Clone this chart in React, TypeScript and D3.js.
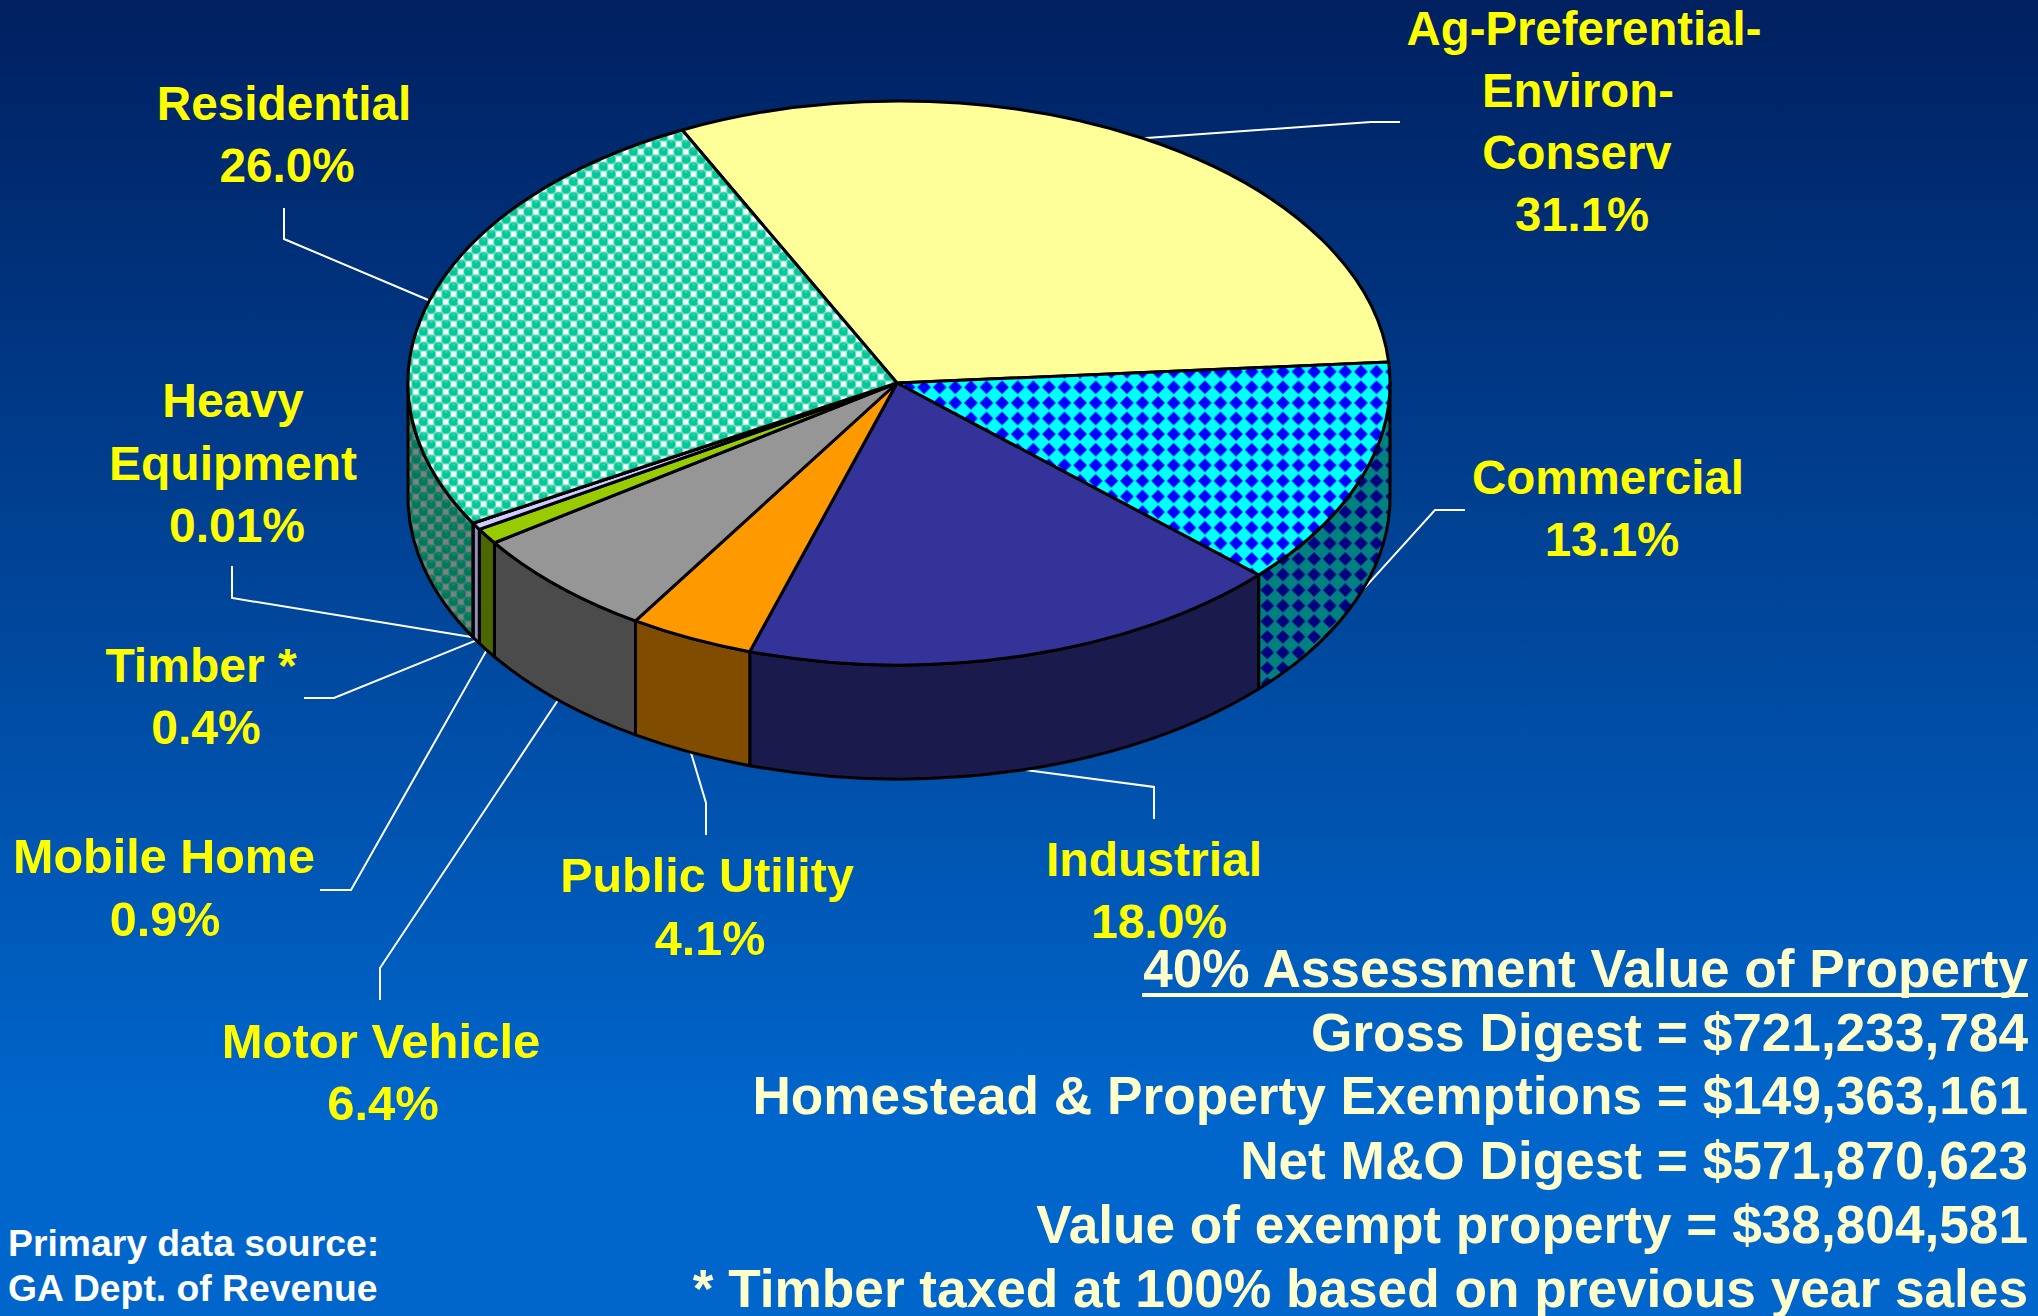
import React from 'react';
import * as d3 from 'd3';

// ---------- data ----------
const categories = ['Ag-Preferential-Environ-Conserv','Commercial','Industrial','Public Utility','Motor Vehicle','Mobile Home','Timber *','Heavy Equipment','Residential'];
const shares = [31.1, 13.1, 18.0, 4.1, 6.4, 0.9, 0.4, 0.01, 26.0];
const shareLabels = ['31.1%','13.1%','18.0%','4.1%','6.4%','0.9%','0.4%','0.01%','26.0%'];
const nameLines = [['Ag-Preferential-','Environ-','Conserv'],['Commercial'],['Industrial'],['Public Utility'],['Motor Vehicle'],['Mobile Home'],['Timber *'],['Heavy','Equipment'],['Residential']];
const digestLines = ['Gross Digest = $721,233,784','Homestead & Property Exemptions = $149,363,161','Net M&O Digest = $571,870,623','Value of exempt property = $38,804,581','* Timber taxed at 100% based on previous year sales'];
const digestTitle = '40% Assessment Value of Property';
const sourceLines = ['Primary data source:','GA Dept. of Revenue'];

// ---------- style / layout ----------
const W = 2038, H = 1316;
const APEX_X = 897, CX = 899, CY = 383, RX = 491, RY = 282, DEPTH = 114;
const START = (-26.2 * Math.PI) / 180;
const topFills = ['#ffff99','url(#pCom)','#333399','#ff9900','#969696','#99cc00','#ccccff','#ffffff','url(#pRes)'];
const wallFills = ['#808050','url(#pComW)','#1a1a4c','#804c00','#4b4b4b','#4c6600','#8f8fc0','#808080','url(#pResW)'];
const labelSize = [47.3,47.5,48,48.5,49,48.5,48,48,47.7];
// label: per-line centre x and baselines (last one is the % line)
const labelX = [[1584,1578,1577,1582],[1608,1612],[1154,1159],[707,710],[381,383],[164,165],[201,206],[233,233,237],[284,287]];
const labelY = [[45,107,169,231],[494,556],[876,938],[892,955],[1058,1120],[873,936],[682,744],[417,480,542],[120,182]];
// leader: elbow and end point
const leaderElbows = [[[1371,122],[1400,122]],[[1435,510],[1465,510]],[[1154,787],[1154,819]],[[706,803],[706,835]],[[380,968],[380,1000]],[[351,890],[320,890]],[[334,698],[304,698]],[[232,598],[232,566]],[[284,239],[284,208]]];

const pie = d3.pie<number>().sort(null).startAngle(START).endAngle(START + 2 * Math.PI);
const arcs = pie(shares);
const px = d3.scaleLinear().domain([-1, 1]).range([CX - RX, CX + RX]);
const py = d3.scaleLinear().domain([-1, 1]).range([CY - RY, CY + RY]);
const pt = (a: number, dz = 0): [number, number] => [px(Math.sin(a)), py(-Math.cos(a)) + dz];

function topPath(a0: number, a1: number) {
  const [x0, y0] = pt(a0), [x1, y1] = pt(a1);
  return `M${APEX_X},${CY}L${x0},${y0}A${RX},${RY} 0 ${a1 - a0 > Math.PI ? 1 : 0} 1 ${x1},${y1}Z`;
}
function wallPath(a0: number, a1: number) {
  const f0 = Math.max(a0, Math.PI / 2), f1 = Math.min(a1, (3 * Math.PI) / 2);
  if (f1 <= f0) return null;
  const [x0, y0] = pt(f0), [x1, y1] = pt(f1);
  return `M${x0},${y0}A${RX},${RY} 0 0 1 ${x1},${y1}L${x1},${y1 + DEPTH}A${RX},${RY} 0 0 0 ${x0},${y0 + DEPTH}Z`;
}

const ResPattern = ({ id, bg, cell, circle, hi }: any) => (
  <pattern id={id} width={15} height={15} patternUnits="userSpaceOnUse" x={502.25} y={305.5}>
    <rect width={15} height={15} fill={bg} />
    <rect x={1.25} y={8.75} width={5} height={5} fill={cell} />
    <rect x={8.75} y={1.25} width={5} height={5} fill={cell} />
    <circle cx={3.75} cy={3.75} r={4.6} fill={circle} />
    <circle cx={11.25} cy={11.25} r={4.6} fill={circle} />
    <rect x={2.5} y={0.9} width={3} height={1} fill={hi} />
    <rect x={10} y={8.4} width={3} height={1} fill={hi} />
  </pattern>
);
const ComPattern = ({ id, bg, fg }: any) => (
  <pattern id={id} width={15.6} height={15.6} patternUnits="userSpaceOnUse" x={1181.5} y={379.5}>
    <rect width={15.6} height={15.6} fill={bg} />
    <path d="M7.8,1 L14.6,7.8 L7.8,14.6 L1,7.8Z" fill={fg} />
  </pattern>
);

export default function App() {
  const font = '"Liberation Sans", Arial, sans-serif';
  return (
    <svg width={W} height={H} viewBox={`0 0 ${W} ${H}`} style={{ position: 'fixed', left: 0, top: 0, display: 'block' }} fontFamily={font} fontWeight="bold">
      <defs>
        <linearGradient id="bg" x1="0" y1="0" x2="0" y2="1">
          <stop offset="0" stopColor="#002060" />
          <stop offset="0.85" stopColor="#0066cc" />
          <stop offset="1" stopColor="#0066cc" />
        </linearGradient>
        <ResPattern id="pRes" bg="#80e0c8" cell="#ffffff" circle="#00c898" hi="#66e0c0" />
        <ResPattern id="pResW" bg="#408070" cell="#808080" circle="#00785c" hi="#309078" />
        <ComPattern id="pCom" bg="#00ffff" fg="#0000ff" />
        <ComPattern id="pComW" bg="#008080" fg="#000080" />
      </defs>
      <rect width={W} height={H} fill="url(#bg)" />

      {/* leaders */}
      <g fill="none" stroke="#ffffff" strokeWidth={2}>
        {arcs.map((a, i) => {
          const mid = (a.startAngle + a.endAngle) / 2;
          const front = Math.cos(mid) < 0;
          const start = pt(mid, front ? DEPTH : 0);
          return <polyline key={categories[i]} points={[start, ...leaderElbows[i]].map((p) => p.join(',')).join(' ')} />;
        })}
      </g>

      {/* pie */}
      <g stroke="#000000" strokeWidth={3} strokeLinejoin="round">
        {arcs.map((a, i) => {
          const d = wallPath(a.startAngle, a.endAngle);
          return d ? <path key={i} d={d} fill={wallFills[i]} /> : null;
        })}
        {arcs.map((a, i) => (
          <path key={i} d={topPath(a.startAngle, a.endAngle)} fill={topFills[i]} />
        ))}
      </g>

      {/* labels */}
      <g fill="#ffff00" textAnchor="middle">
        {categories.map((c, i) => {
          const lines = [...nameLines[i], shareLabels[i]];
          return (
            <g key={c} fontSize={labelSize[i]}>
              {lines.map((t, j) => (
                <text key={j} x={labelX[i][j]} y={labelY[i][j]}>{t}</text>
              ))}
            </g>
          );
        })}
      </g>

      {/* digest block */}
      <g fill="#ffffcc" fontSize={53.2} textAnchor="end">
        <text x={2028} y={987}>{digestTitle}</text>
        <rect x={1142} y={993} width={886} height={4} />
        {digestLines.map((t, i) => (
          <text key={t} x={2028} y={[1051, 1114, 1179, 1243, 1307][i]}>{t}</text>
        ))}
      </g>

      {/* source */}
      <g fill="#ffffff" fontSize={37.3}>
        {sourceLines.map((t, i) => (
          <text key={t} x={8} y={1256 + i * 45}>{t}</text>
        ))}
      </g>
    </svg>
  );
}
